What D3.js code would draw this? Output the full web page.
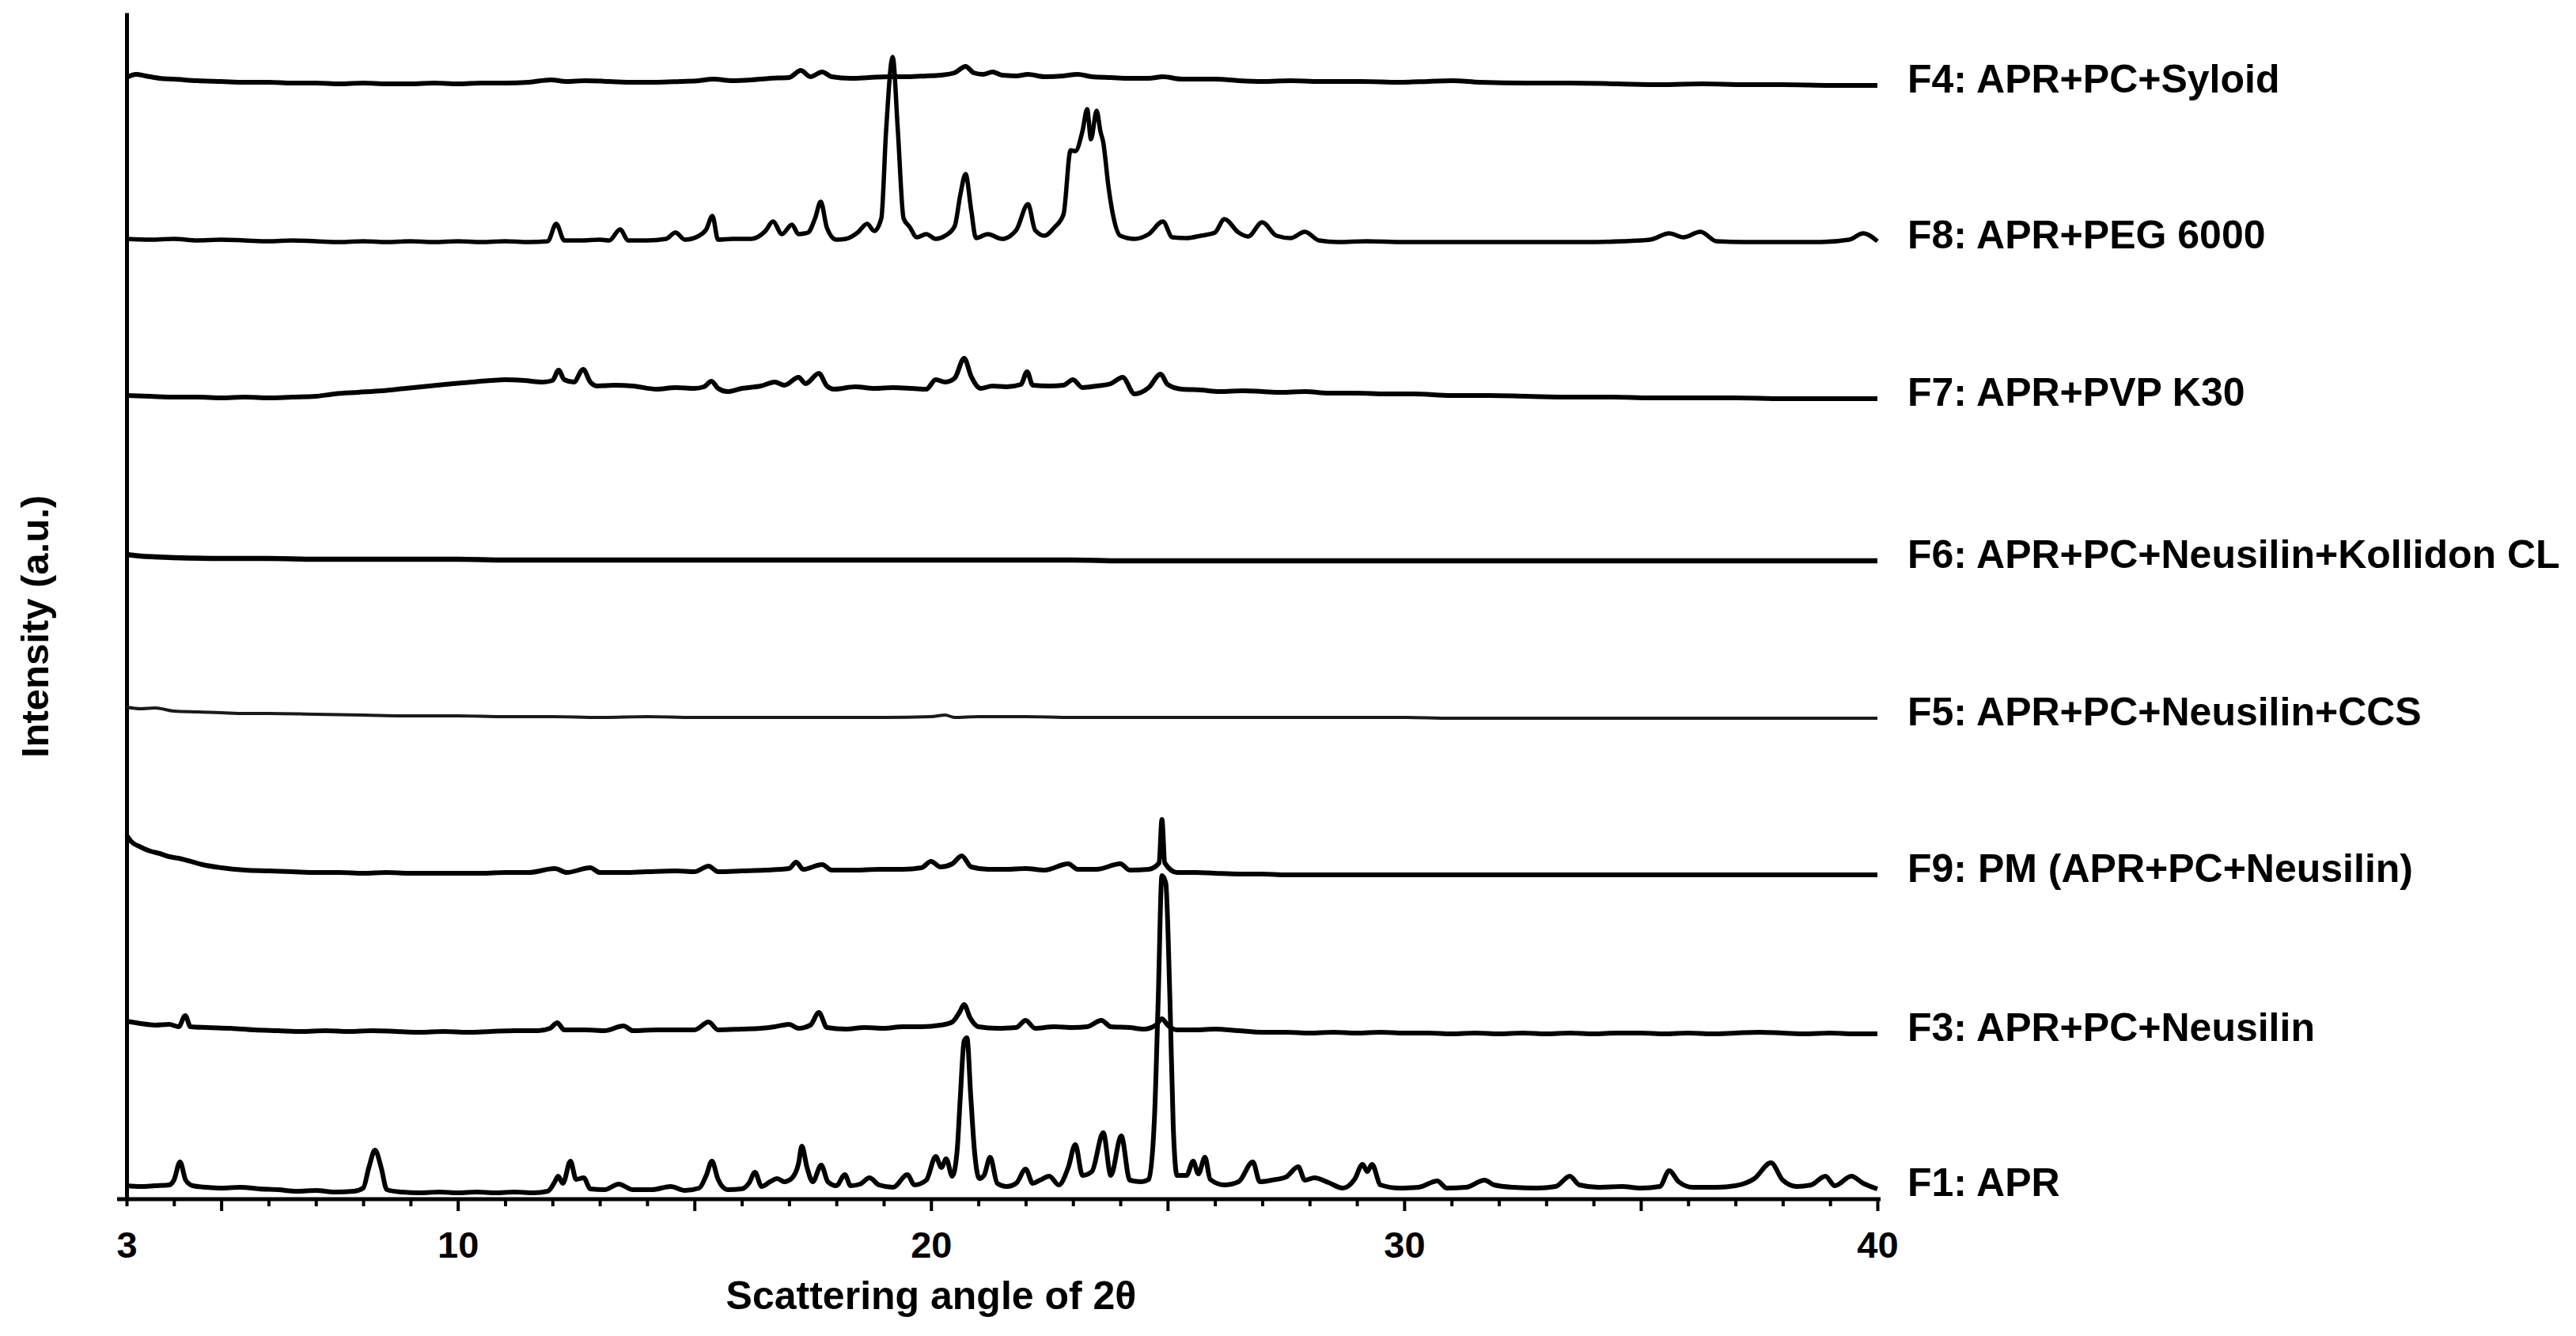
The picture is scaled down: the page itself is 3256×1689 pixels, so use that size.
<!DOCTYPE html>
<html>
<head>
<meta charset="utf-8">
<script src="https://cdn.jsdelivr.net/npm/d3@7"></script>
<style>
  body { margin: 0; background: #fff; }
  text { font-family: "Liberation Sans", Arial, sans-serif; font-weight: bold; fill: #000; }
</style>
</head>
<body>
<div id="chart"></div>
<script>
// XRD patterns, 2θ vs intensity (a.u.), stacked

const width = 3256;
const height = 1689;

// series names, bottom to top
const seriesNames = [
  "F1: APR",
  "F3: APR+PC+Neusilin",
  "F9: PM (APR+PC+Neusilin)",
  "F5: APR+PC+Neusilin+CCS",
  "F6: APR+PC+Neusilin+Kollidon CL",
  "F7: APR+PVP K30",
  "F8: APR+PEG 6000",
  "F4: APR+PC+Syloid"
];

// vertical shift of each pattern (a.u.)
const stackOffsets = [0, 200, 400, 600, 800, 1000, 1200, 1400];

// [2θ, intensity]
const f1 = [[3.0,17],[3.3,16],[3.6,17],[3.9,18],[4.0,24],[4.13,47],[4.25,24],[4.4,17],[4.7,15],[5.0,14],[5.4,15],[5.8,13],[6.2,12],[6.6,10],[7.0,11],[7.4,9],[7.8,10],[8.0,14],[8.12,40],[8.25,62],[8.38,40],[8.5,12],[8.8,9],[9.2,8],[9.6,9],[10.0,8],[10.4,9],[10.8,8],[11.2,9],[11.6,8],[11.9,10],[12.05,22],[12.12,29],[12.22,20],[12.38,48],[12.5,25],[12.66,27],[12.8,13],[13.1,12],[13.4,19],[13.7,12],[14.1,12],[14.5,16],[14.8,11],[15.1,14],[15.25,30],[15.37,48],[15.5,25],[15.7,12],[16.0,13],[16.15,20],[16.28,34],[16.42,16],[16.6,22],[16.75,26],[16.9,22],[17.05,26],[17.2,45],[17.27,67],[17.38,40],[17.5,22],[17.68,43],[17.82,22],[18.0,17],[18.18,31],[18.3,17],[18.5,19],[18.7,27],[18.9,18],[19.2,15],[19.5,31],[19.65,18],[19.9,24],[20.1,54],[20.22,40],[20.32,51],[20.45,29],[20.55,60],[20.62,130],[20.7,200],[20.76,204],[20.84,130],[20.92,60],[21.02,26],[21.12,30],[21.25,53],[21.4,20],[21.6,16],[21.8,20],[22.0,38],[22.15,20],[22.3,24],[22.5,29],[22.7,18],[22.9,40],[23.05,69],[23.2,30],[23.4,35],[23.64,84],[23.8,30],[24.02,80],[24.2,24],[24.45,22],[24.6,25],[24.72,100],[24.8,250],[24.88,409],[24.96,400],[25.05,250],[25.12,90],[25.2,30],[25.4,30],[25.54,48],[25.65,32],[25.79,53],[25.9,25],[26.2,18],[26.5,22],[26.8,47],[26.95,22],[27.2,24],[27.5,28],[27.76,41],[27.9,24],[28.1,27],[28.4,21],[28.7,14],[28.95,25],[29.12,44],[29.22,35],[29.32,44],[29.5,18],[29.9,14],[30.3,15],[30.7,23],[30.9,14],[31.3,15],[31.7,24],[31.9,18],[32.3,15],[32.8,14],[33.2,16],[33.5,29],[33.7,18],[34.1,15],[34.6,16],[35.0,14],[35.4,16],[35.6,36],[35.8,22],[36.1,15],[36.6,15],[37.0,17],[37.4,26],[37.75,46],[38.0,24],[38.3,16],[38.6,18],[38.9,29],[39.1,17],[39.45,29],[39.7,20],[40.0,13]];

const f3 = [[3.0,25],[3.3,22],[3.6,20],[3.9,21],[4.1,18],[4.24,32],[4.35,18],[4.7,17],[5.2,16],[5.7,14],[6.2,13],[6.7,12],[7.2,13],[7.7,12],[8.2,13],[8.7,12],[9.2,11],[9.7,12],[10.2,11],[10.7,12],[11.2,13],[11.7,13],[11.95,16],[12.1,23],[12.25,14],[12.7,14],[13.1,13],[13.5,19],[13.7,13],[14.2,14],[14.6,14],[15.0,14],[15.3,24],[15.5,14],[16.0,15],[16.4,16],[16.7,18],[17.0,21],[17.2,16],[17.45,20],[17.63,36],[17.8,17],[18.2,15],[18.6,17],[19.0,16],[19.4,18],[19.8,18],[20.2,20],[20.45,24],[20.6,36],[20.7,46],[20.82,30],[21.0,18],[21.4,16],[21.8,17],[22.0,26],[22.2,16],[22.6,18],[23.0,17],[23.3,18],[23.6,26],[23.8,18],[24.2,17],[24.5,15],[24.75,20],[24.88,28],[25.0,20],[25.2,14],[25.6,14],[26.0,15],[26.5,13],[27.0,11],[27.5,11],[28.0,10],[28.5,11],[29.0,10],[29.5,11],[30.0,10],[30.5,10],[31.0,9],[31.5,10],[32.0,9],[32.5,10],[33.0,9],[33.5,10],[34.0,9],[34.5,10],[35.0,10],[35.5,9],[36.0,10],[36.5,9],[37.0,10],[37.5,11],[38.0,10],[38.5,9],[39.0,10],[39.5,9],[40.0,9]];

const f9 = [[3.0,60],[3.1,52],[3.3,45],[3.5,40],[3.7,37],[3.9,33],[4.1,31],[4.3,28],[4.6,23],[5.0,19],[5.5,16],[6.0,15],[6.5,14],[7.0,13],[7.5,13],[8.0,12],[8.5,13],[9.0,12],[9.5,12],[10.0,12],[10.5,12],[11.0,13],[11.5,13],[12.05,18],[12.3,13],[12.8,19],[13.0,13],[13.5,13],[14.0,14],[14.6,15],[15.0,14],[15.3,21],[15.5,14],[16.0,15],[16.5,16],[17.0,18],[17.15,26],[17.3,17],[17.7,23],[17.9,16],[18.4,16],[18.9,17],[19.4,17],[19.8,19],[20.0,27],[20.2,20],[20.45,24],[20.65,34],[20.85,20],[21.2,17],[21.6,17],[22.0,18],[22.4,16],[22.9,24],[23.1,17],[23.5,17],[24.0,24],[24.2,16],[24.6,17],[24.82,25],[24.88,80],[24.94,25],[25.2,13],[25.6,13],[26.0,12],[26.5,11],[27.0,11],[27.5,10],[28.0,10],[29.0,10],[30.0,10],[31.0,10],[32.0,10],[33.0,10],[34.0,10],[35.0,10],[36.0,10],[37.0,10],[38.0,10],[39.0,10],[40.0,10]];

const f5 = [[3.0,22],[3.3,20],[3.6,21],[4.0,17],[4.5,16],[5.0,15],[5.5,14],[6.0,14],[7.0,13],[8.0,12],[9.0,11],[10.0,11],[11.0,10],[12.0,10],[13.0,9],[14.0,10],[15.0,9],[16.0,9],[17.0,9],[18.0,9],[19.0,9],[20.0,10],[20.3,12],[20.5,9],[21.0,10],[22.0,10],[23.0,9],[24.0,9],[25.0,9],[26.0,9],[27.0,9],[28.0,9],[29.0,9],[30.0,9],[31.0,8],[32.0,8],[33.0,8],[34.0,8],[35.0,8],[36.0,8],[37.0,8],[38.0,8],[39.0,8],[40.0,8]];

const f6 = [[3.0,15],[3.3,13],[3.6,12],[4.0,11],[5.0,10],[6.0,10],[7.0,9],[8.0,9],[9.0,9],[10.0,9],[11.0,8],[12.0,8],[13.0,8],[14.0,8],[15.0,8],[16.0,8],[17.0,8],[18.0,8],[19.0,8],[20.0,8],[21.0,8],[22.0,8],[23.0,8],[24.0,7],[25.0,7],[26.0,7],[27.0,7],[28.0,7],[29.0,7],[30.0,7],[31.0,7],[32.0,7],[33.0,7],[34.0,7],[35.0,7],[36.0,7],[37.0,7],[38.0,7],[39.0,7],[40.0,7]];

const f7 = [[3.0,16],[3.5,15],[4.0,14],[4.5,14],[5.0,13],[5.5,14],[6.0,13],[6.5,14],[7.0,15],[7.4,18],[7.9,20],[8.4,22],[8.9,25],[9.4,28],[9.9,31],[10.3,33],[10.7,35],[11.0,36],[11.4,35],[11.8,33],[12.0,35],[12.13,48],[12.25,36],[12.45,33],[12.65,49],[12.8,33],[12.95,28],[13.3,29],[13.7,28],[14.2,24],[14.6,26],[15.0,25],[15.2,27],[15.36,34],[15.5,25],[15.7,21],[16.0,25],[16.4,28],[16.7,33],[16.9,29],[17.2,39],[17.35,31],[17.63,44],[17.8,28],[17.95,24],[18.4,27],[18.8,25],[19.2,26],[19.6,25],[19.9,24],[20.1,36],[20.3,33],[20.5,38],[20.7,63],[20.85,40],[21.05,25],[21.3,28],[21.6,27],[21.9,30],[22.03,46],[22.15,29],[22.5,28],[22.8,29],[23.0,36],[23.2,26],[23.5,28],[23.8,31],[24.05,39],[24.3,18],[24.6,26],[24.85,43],[25.0,30],[25.3,24],[25.7,23],[26.1,21],[26.6,22],[27.0,21],[27.4,20],[27.9,21],[28.4,19],[29.0,19],[29.6,18],[30.2,18],[31.0,16],[31.8,16],[32.6,15],[33.5,14],[34.4,14],[35.2,13],[36.0,13],[37.0,13],[38.0,12],[39.0,12],[40.0,12]];

const f8 = [[3.0,14],[3.5,13],[4.0,14],[4.5,12],[5.0,13],[5.5,12],[6.0,11],[6.5,12],[7.0,11],[7.5,10],[8.0,11],[8.5,10],[9.0,11],[9.5,10],[10.0,11],[10.5,10],[11.0,11],[11.5,10],[11.9,11],[12.08,33],[12.25,12],[12.6,12],[13.0,13],[13.2,12],[13.43,26],[13.6,12],[14.0,12],[14.4,14],[14.6,22],[14.8,13],[15.1,18],[15.25,26],[15.38,43],[15.5,13],[15.8,14],[16.2,14],[16.5,24],[16.66,36],[16.85,20],[17.06,32],[17.2,20],[17.4,22],[17.55,40],[17.67,61],[17.8,28],[18.0,13],[18.2,14],[18.45,22],[18.65,33],[18.8,24],[18.95,40],[19.05,150],[19.19,244],[19.3,150],[19.42,40],[19.55,29],[19.7,16],[19.9,20],[20.1,14],[20.3,18],[20.5,30],[20.62,70],[20.73,96],[20.85,50],[20.95,15],[21.2,20],[21.5,14],[21.8,25],[22.05,58],[22.2,25],[22.4,18],[22.6,28],[22.8,45],[22.95,126],[23.05,125],[23.2,150],[23.3,178],[23.38,140],[23.5,176],[23.58,150],[23.64,136],[23.75,80],[23.85,43],[24.0,18],[24.3,14],[24.6,20],[24.9,36],[25.1,16],[25.4,15],[25.7,18],[26.0,22],[26.2,39],[26.5,22],[26.7,17],[27.0,35],[27.3,18],[27.6,15],[27.9,23],[28.2,12],[28.6,10],[29.2,11],[30.0,10],[31.0,10],[32.0,10],[33.0,10],[34.0,10],[34.6,11],[35.2,13],[35.6,21],[35.9,16],[36.26,23],[36.6,11],[37.2,10],[38.0,10],[38.8,10],[39.4,13],[39.7,21],[40.0,11]];

const f4 = [[3.0,18],[3.2,22],[3.4,20],[3.7,17],[4.0,16],[4.5,14],[5.0,13],[5.5,12],[6.0,12],[6.5,11],[7.0,11],[7.5,10],[8.0,11],[8.5,10],[9.0,10],[9.5,11],[10.0,10],[10.5,11],[11.0,11],[11.5,12],[11.96,15],[12.3,13],[12.7,14],[13.2,13],[13.7,12],[14.2,12],[14.7,13],[15.1,14],[15.4,16],[15.8,14],[16.2,15],[16.6,17],[17.0,18],[17.25,27],[17.45,19],[17.7,25],[17.9,19],[18.3,17],[18.7,18],[19.1,19],[19.5,19],[19.9,20],[20.2,21],[20.5,24],[20.73,32],[20.9,24],[21.1,22],[21.3,25],[21.5,21],[21.8,20],[22.05,22],[22.4,19],[22.8,20],[23.1,22],[23.4,19],[23.8,18],[24.2,17],[24.6,17],[24.9,19],[25.3,16],[25.7,16],[26.0,16],[26.5,14],[27.0,13],[27.6,14],[28.2,13],[29.1,13],[29.9,12],[30.5,13],[31.0,14],[31.6,12],[32.6,11],[33.5,11],[34.5,10],[35.4,9],[36.3,10],[37.2,9],[38.0,9],[39.0,8],[40.0,8]];

const patterns = [f1, f3, f9, f5, f6, f7, f8, f4];

// axis ticks
const xTickValues = d3.range(3, 41);
const xTickLabels = [3, 10, 20, 30, 40];

const margin = { left: 160, right: 883, top: 15, bottom: 173 };

const svg = d3.select("#chart").append("svg")
  .attr("width", width)
  .attr("height", height);

svg.append("rect").attr("width", width).attr("height", height).attr("fill", "#fff");

const x = d3.scaleLinear().domain([3, 40]).range([margin.left, width - margin.right]);
const y = d3.scaleLinear().domain([0, 1500]).range([height - margin.bottom, margin.top + 1]);

// x axis
const xAxis = svg.append("g")
  .attr("transform", `translate(0,${y(0)})`)
  .call(d3.axisBottom(x)
    .tickValues(xTickValues)
    .tickSize(9)
    .tickSizeOuter(0)
    .tickFormat(d => xTickLabels.includes(d) ? d : ""));

xAxis.select(".domain").remove();
xAxis.selectAll(".tick line")
  .attr("stroke", "#000")
  .attr("stroke-width", 4)
  .attr("y2", d => d % 5 === 0 ? 15 : 9);
xAxis.selectAll(".tick text")
  .attr("y", 74)
  .attr("dy", null)
  .style("font-size", "47px")
  .style("font-family", "'Liberation Sans', Arial, sans-serif")
  .style("font-weight", "bold")
  .attr("fill", "#000");

svg.append("line")
  .attr("x1", x(3) - 12).attr("x2", x(40) + 4)
  .attr("y1", y(0)).attr("y2", y(0))
  .attr("stroke", "#000").attr("stroke-width", 5);

// y axis (no ticks)
const yAxis = svg.append("g")
  .attr("transform", `translate(${x(3)},0)`)
  .call(d3.axisLeft(y).tickValues([]).tickSizeOuter(0));
yAxis.select(".domain").attr("stroke", "#000").attr("stroke-width", 5);

// patterns
const line = d3.line()
  .curve(d3.curveMonotoneX)
  .x(d => x(d[0]))
  .y(d => y(d[1]));

const strokeW = [6, 6, 6, 4, 6.5, 6, 5.5, 6];

patterns.forEach((pts, i) => {
  const shifted = pts.map(p => [p[0], p[1] + stackOffsets[i]]);
  svg.append("path")
    .datum(shifted)
    .attr("fill", "none")
    .attr("stroke", i === 3 ? "#1a1a1a" : "#000")
    .attr("stroke-width", strokeW[i])
    .attr("stroke-linejoin", "round")
    .attr("d", line);

  const last = shifted[shifted.length - 1];
  svg.append("text")
    .attr("x", x(40) + 38)
    .attr("y", y(last[1]) + 9)
    .style("font-size", "50px")
    .text(seriesNames[i]);
});

// axis titles
svg.append("text")
  .attr("x", 1177)
  .attr("y", 1655)
  .attr("text-anchor", "middle")
  .style("font-size", "50px")
  .text("Scattering angle of 2θ");

svg.append("text")
  .attr("transform", `translate(61,${y(0) - 724}) rotate(-90)`)
  .attr("text-anchor", "middle")
  .style("font-size", "49px")
  .text("Intensity (a.u.)");
</script>
</body>
</html>
